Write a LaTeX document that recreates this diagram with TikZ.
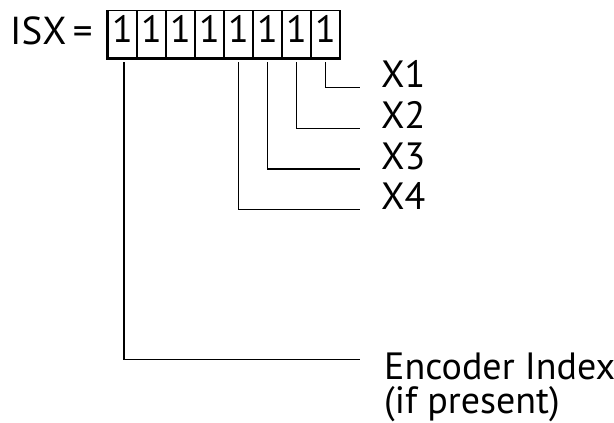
\documentclass[tikz,border=0pt]{standalone}
\usepackage{fontspec}
\setmainfont{PT Sans}
\usetikzlibrary{calc}
\begin{document}
\begin{tikzpicture}[x=1pt,y=-1pt,
  cell/.style={draw,line width=1.2pt,minimum width=29pt,minimum height=46.8pt,
    inner sep=0pt,text height=26.7pt,text depth=9pt,font=\fontsize{38}{40}\selectfont},
  lab/.style={inner sep=0pt,anchor=base west,font=\fontsize{38}{40}\selectfont},
  conn/.style={line width=1.3pt}]
\useasboundingbox (0,0) rectangle (614,423);
\node[lab,font=\fontsize{39}{42}\selectfont] (isx) at (10,44.3) {ISX\,=};
\foreach \i in {1,...,8}{
  \node[cell] (c\i) at ({108+29*(\i-0.5)},34.1) {1};
}
\draw[line width=2.8pt] (c1.north west) -- (c1.south west) -- (c8.south east);
\node[lab] (x1) at (381,87.3) {X1};
\node[lab] (x2) at (381,128.3) {X2};
\node[lab] (x3) at (381,169) {X3};
\node[lab] (x4) at (381,209.3) {X4};
\node[lab,align=left,font=\fontsize{38}{34}\selectfont] (enc) at (384,413.5) {Encoder Index\\(if present)};
\coordinate (encend) at (359.5,359.3);
\draw[conn] ($(c8.south)+(0,4)$) |- ($(x1.base west)+(-21.5,0)$);
\draw[conn] ($(c7.south)+(0,4)$) |- ($(x2.base west)+(-21.5,0)$);
\draw[conn] ($(c6.south)+(0,4)$) |- ($(x3.base west)+(-21.5,0)$);
\draw[conn] ($(c5.south)+(0,4)$) |- ($(x4.base west)+(-21.5,0)$);
\draw[conn] ($(c1.south)+(1.5,4)$) |- (encend);
\end{tikzpicture}
\end{document}
